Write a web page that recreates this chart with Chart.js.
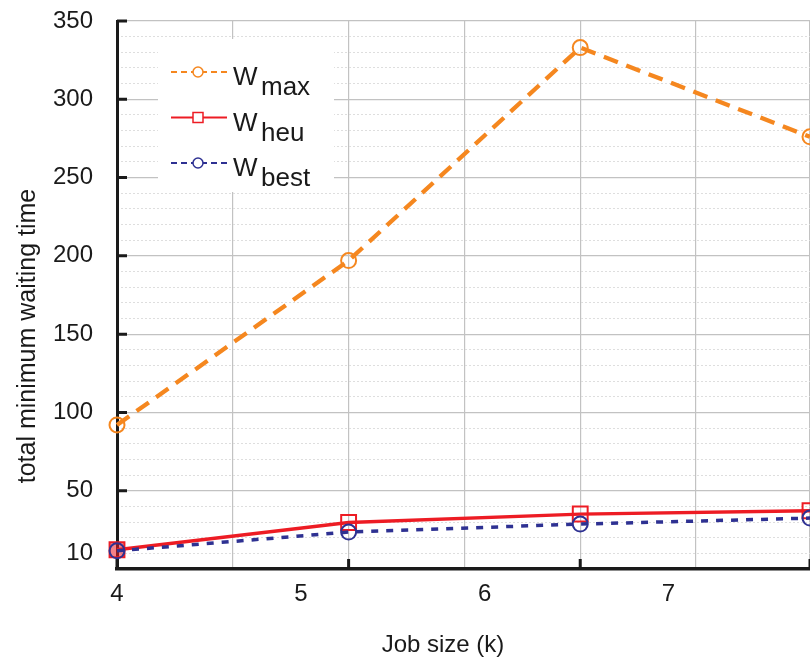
<!DOCTYPE html>
<html>
<head>
<meta charset="utf-8">
<title>total minimum waiting time</title>
<script src="https://cdn.jsdelivr.net/npm/chart.js@4/dist/chart.umd.min.js"></script>
<style>
  html, body { margin: 0; padding: 0; background: #fff; overflow: hidden; }
  #grafico { display: block; }
</style>
</head>
<body>
<canvas id="grafico" width="810" height="662"></canvas>
<script>
// ============================================
// DADOS
// ============================================
const jobSizes = [4, 5.26, 6.52, 7.77];
const wMax = [92, 197, 333, 276];
const wHeu = [12.3, 29.7, 35.1, 37.2];
const wBest = [11.6, 23.6, 28.7, 32.5];

const xTickLabels = [4, 5, 6, 7];
const yTickLabels = [10, 50, 100, 150, 200, 250, 300, 350];
const legendSubs = ['max', 'heu', 'best'];

const X_MIN = 4, X_MAX = 7.77;
const Y_MIN = 0, Y_MAX = 350;

const FONT = '"Liberation Sans", Arial, Helvetica, sans-serif';
const TEXT = '#1a1a1a';
const AXIS = '#1a1a1a';

const CORES = {
    max: '#f5871f',
    heu: '#ed1c24',
    best: '#2e3192'
};

// linhas verticais da grade: a cada meio passo entre os pontos
const xGridValues = [];
jobSizes.forEach((v, i) => {
    xGridValues.push(v);
    if (i < jobSizes.length - 1) xGridValues.push((v + jobSizes[i + 1]) / 2);
});

// grade menor a cada 10
const yMinorValues = [];
for (let v = 10; v < Y_MAX; v += 10) {
    if (v % 50 !== 0) yMinorValues.push(v);
}

const pontos = (ys) => jobSizes.map((x, i) => ({ x, y: ys[i] }));

// sem folga automática das escalas: área do gráfico fixa
const semFolga = (s) => {
    s.paddingTop = 0;
    s.paddingBottom = 0;
    s.paddingLeft = 0;
    s.paddingRight = 0;
};

// ============================================
// PLUGINS
// ============================================
const legendaCustom = {
    id: 'legendaCustom',
    beforeDatasetsDraw(chart) {
        const ctx = chart.ctx;
        ctx.save();
        ctx.fillStyle = '#fff';
        ctx.fillRect(158, 39, 176, 153);

        chart.data.datasets.forEach((ds, i) => {
            const y = 72 + i * 45.5;
            ctx.strokeStyle = ds.borderColor;
            ctx.lineWidth = 2;
            ctx.setLineDash(ds.legendDash || []);
            ctx.beginPath();
            ctx.moveTo(171, y);
            ctx.lineTo(227, y);
            ctx.stroke();
            ctx.setLineDash([]);

            ctx.lineWidth = 1.5;
            ctx.fillStyle = '#fff';
            ctx.beginPath();
            if (ds.pointStyle === 'rect') {
                ctx.rect(193, y - 5, 10, 10);
            } else {
                ctx.arc(198, y, 5, 0, Math.PI * 2);
            }
            ctx.fill();
            ctx.stroke();

            ctx.fillStyle = TEXT;
            ctx.textBaseline = 'alphabetic';
            ctx.textAlign = 'left';
            ctx.font = '26px ' + FONT;
            ctx.fillText('W', 233, y + 13);
            ctx.fillText(legendSubs[i], 261, y + 23);
        });
        ctx.restore();
    }
};

const marcasEixos = {
    id: 'marcasEixos',
    beforeDatasetsDraw(chart) {
        const { ctx, chartArea, scales } = chart;
        ctx.save();
        ctx.strokeStyle = AXIS;
        ctx.lineWidth = 3;
        ctx.beginPath();
        jobSizes.forEach(v => {
            const px = scales.x.getPixelForValue(v);
            ctx.moveTo(px, chartArea.bottom);
            ctx.lineTo(px, chartArea.bottom - 10);
        });
        yTickLabels.filter(v => v % 50 === 0).forEach(v => {
            const py = scales.y.getPixelForValue(v);
            ctx.moveTo(chartArea.left, py);
            ctx.lineTo(chartArea.left + 10, py);
        });
        ctx.stroke();
        ctx.restore();
    }
};

const titulosEixos = {
    id: 'titulosEixos',
    afterDraw(chart) {
        const ctx = chart.ctx;
        ctx.save();
        ctx.fillStyle = TEXT;
        ctx.font = '24px ' + FONT;
        ctx.textAlign = 'center';
        ctx.textBaseline = 'alphabetic';
        ctx.fillText('Job size (k)', 443, 652);

        ctx.translate(35, 336);
        ctx.rotate(-Math.PI / 2);
        ctx.font = '25px ' + FONT;
        ctx.fillText('total minimum waiting time', 0, 0);
        ctx.restore();
    }
};

// ============================================
// GRÁFICO
// ============================================
const ctx = document.getElementById('grafico').getContext('2d');
new Chart(ctx, {
    type: 'line',
    data: {
        datasets: [
            {
                label: 'W max',
                data: pontos(wMax),
                borderColor: CORES.max,
                borderWidth: 4.3,
                borderDash: [15, 9],
                legendDash: [6, 4],
                pointStyle: 'circle',
                pointRadius: 7.5,
                pointBorderWidth: 2,
                pointBorderColor: CORES.max,
                pointBackgroundColor: 'rgba(0,0,0,0)',
                tension: 0,
                clip: false,
                order: 0
            },
            {
                label: 'W heu',
                data: pontos(wHeu),
                borderColor: CORES.heu,
                borderWidth: 3.3,
                pointStyle: 'rect',
                pointRadius: 10.5,
                pointBorderWidth: 2,
                pointBorderColor: CORES.heu,
                pointBackgroundColor: ['rgba(237,28,36,0.55)', 'rgba(0,0,0,0)', 'rgba(0,0,0,0)', 'rgba(0,0,0,0)'],
                tension: 0,
                clip: false,
                order: 2
            },
            {
                label: 'W best',
                data: pontos(wBest),
                borderColor: CORES.best,
                borderWidth: 3.5,
                borderDash: [7, 8],
                legendDash: [6, 4],
                pointStyle: 'circle',
                pointRadius: 7.5,
                pointBorderWidth: 2,
                pointBorderColor: CORES.best,
                pointBackgroundColor: 'rgba(0,0,0,0)',
                tension: 0,
                clip: false,
                order: 1
            }
        ]
    },
    options: {
        responsive: false,
        animation: false,
        events: [],
        layout: {
            autoPadding: false,
            padding: { top: 21, right: 0, bottom: 0, left: 0 }
        },
        plugins: {
            legend: { display: false },
            tooltip: { enabled: false }
        },
        scales: {
            x: {
                type: 'linear',
                position: 'bottom',
                min: X_MIN,
                max: X_MAX,
                afterBuildTicks: (s) => { s.ticks = xTickLabels.map(v => ({ value: v })); },
                afterFit: (s) => { s.height = 93; semFolga(s); },
                grid: { display: false, drawTicks: false },
                border: { display: true, color: AXIS, width: 3.5 },
                ticks: {
                    color: TEXT,
                    font: { family: FONT, size: 24 },
                    padding: 11,
                    maxRotation: 0,
                    autoSkip: false
                }
            },
            xGrade: {
                type: 'linear',
                position: 'bottom',
                min: X_MIN,
                max: X_MAX,
                afterBuildTicks: (s) => { s.ticks = xGridValues.map(v => ({ value: v })); },
                afterFit: (s) => { s.height = 0; semFolga(s); },
                grid: { color: '#c2c2c2', lineWidth: 1.2, drawTicks: false },
                border: { display: false },
                ticks: { display: false }
            },
            y: {
                type: 'linear',
                position: 'left',
                min: Y_MIN,
                max: Y_MAX,
                afterBuildTicks: (s) => { s.ticks = yTickLabels.map(v => ({ value: v })); },
                afterFit: (s) => { s.width = 117; semFolga(s); },
                grid: {
                    color: (c) => (c.tick && c.tick.value % 50 === 0) ? '#c2c2c2' : 'rgba(0,0,0,0)',
                    lineWidth: 1.2,
                    drawTicks: false
                },
                border: { display: true, color: AXIS, width: 3 },
                ticks: {
                    color: TEXT,
                    font: { family: FONT, size: 24 },
                    padding: 24,
                    autoSkip: false
                }
            },
            yMenor: {
                type: 'linear',
                position: 'left',
                min: Y_MIN,
                max: Y_MAX,
                afterBuildTicks: (s) => { s.ticks = yMinorValues.map(v => ({ value: v })); },
                afterFit: (s) => { s.width = 0; semFolga(s); },
                grid: { color: '#dedede', lineWidth: 1, drawTicks: false },
                border: { display: false, dash: [2, 2] },
                ticks: { display: false }
            }
        }
    },
    plugins: [legendaCustom, marcasEixos, titulosEixos]
});
</script>
</body>
</html>
